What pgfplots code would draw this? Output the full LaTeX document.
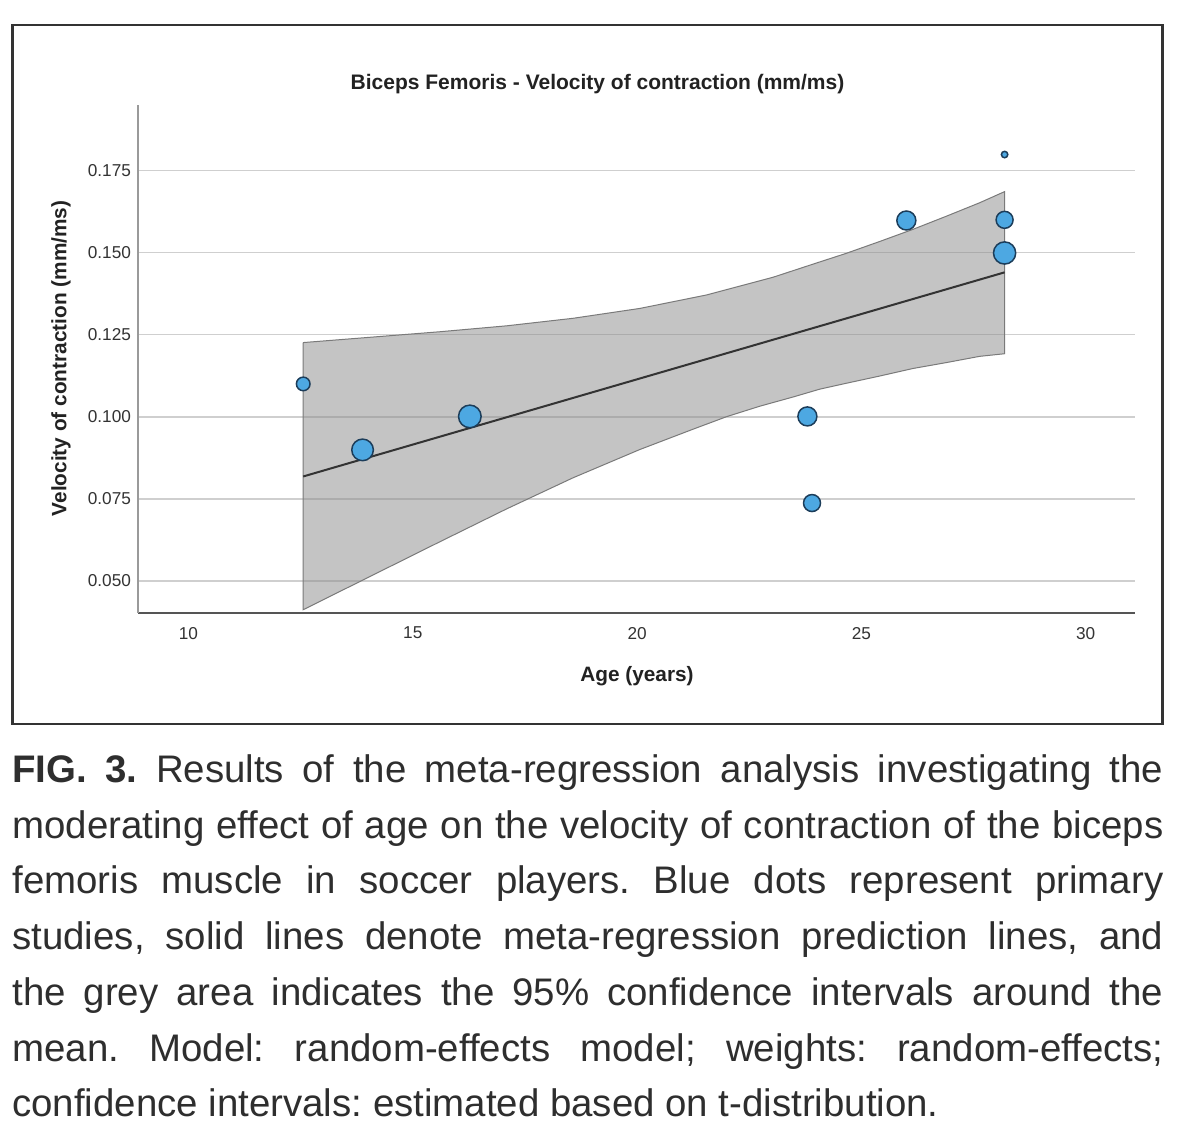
\documentclass[border=0pt]{standalone}
\usepackage{pgfplots}
\pgfplotsset{compat=1.18}
\usepackage{fontspec}
\setmainfont{Liberation Sans}

\definecolor{framecol}{HTML}{333333}
\definecolor{axisdark}{HTML}{555555}
\definecolor{axislight}{HTML}{9A9A9A}
\definecolor{gridcol}{HTML}{CFCFCF}
\definecolor{bandfill}{HTML}{8A8A8A}
\definecolor{bandedge}{HTML}{7A7A7A}
\definecolor{fitline}{HTML}{333333}
\definecolor{dotfill}{HTML}{4DA8E2}
\definecolor{dotedge}{HTML}{1C3D5A}
\definecolor{labelcol}{HTML}{222222}
\definecolor{tickcol}{HTML}{333333}
\definecolor{captext}{HTML}{2E2E2E}

% primary studies: age, velocity, marker radius (pt, by weight)
\pgfplotstableread{
x       y       r
12.558  0.1100  3.4
13.881  0.0899  5.4
16.272  0.1001  5.65
23.797  0.1001  4.75
23.900  0.0737  4.25
26.003  0.1598  4.75
28.193  0.1600  4.25
28.193  0.1499  5.55
28.193  0.1799  1.6
}\studies

% 95% confidence band: upper edge left to right, lower edge right to left
\pgfplotstableread{
x       y
12.558  0.1226
15.604  0.1259
17.090  0.1277
18.574  0.1300
20.060  0.1330
21.546  0.1371
23.030  0.1425
23.922  0.1465
24.665  0.1498
25.408  0.1534
26.150  0.1571
26.894  0.1611
27.636  0.1652
28.193  0.1686
28.193  0.1192
27.636  0.1184
26.894  0.1165
26.150  0.1147
25.408  0.1124
24.665  0.1102
24.071  0.1084
23.500  0.1061
22.734  0.1032
21.992  0.1000
21.248  0.0962
20.060  0.0900
18.574  0.0814
17.090  0.0719
15.604  0.0619
12.558  0.0412
12.558  0.1226
}\band

% meta-regression prediction line
\pgfplotstableread{
x       y
12.558  0.0818
28.193  0.1440
}\fit

\begin{document}
\begin{tikzpicture}
\useasboundingbox (0pt,0pt) rectangle (600pt,566.5pt);
\fill[white] (0pt,0pt) rectangle (600pt,566.5pt);

\begin{axis}[
  at={(69pt,260pt)}, anchor=south west,
  scale only axis, width=498.5pt, height=254pt,
  xmin=8.875, xmax=31.10, ymin=0.0402, ymax=0.195,
  axis x line*=bottom, axis y line*=left,
  x axis line style={draw=axisdark, line width=0.9pt, -},
  y axis line style={draw=axislight, line width=0.9pt, -},
  xtick={10,15,20,25,30},
  ytick={0.050,0.075,0.100,0.125,0.150,0.175},
  major tick length=0pt,
  scaled y ticks=false,
  ymajorgrids, grid style={draw=gridcol, line width=0.8pt},
  /pgf/number format/assume math mode=true,
  ticklabel style={font=\fontsize{8.6}{10}\selectfont, text=tickcol},
  xticklabel style={yshift=-3.5pt},
  yticklabel style={/pgf/number format/.cd, fixed, fixed zerofill, precision=3},
  title={Biceps Femoris - Velocity of contraction (mm/ms)},
  title style={at={(axis description cs:0.4609,1.0073)}, anchor=base,
    font=\bfseries\fontsize{10.5}{12}\selectfont, text=labelcol},
  xlabel={Age (years)},
  xlabel style={at={(axis description cs:0.5005,-0.1339)}, anchor=base,
    font=\bfseries\fontsize{10.4}{12}\selectfont, text=labelcol},
  ylabel={Velocity of contraction (mm/ms)},
  ylabel style={at={(axis description cs:-0.0772,0.501)}, anchor=center, rotate=0,
    font=\bfseries\fontsize{10.4}{12}\selectfont, text=labelcol},
  clip=false,
]
  \addplot[fill=bandfill, fill opacity=0.5, draw=bandedge, line width=0.5pt]
    table[x=x, y=y] {\band};
  \addplot[draw=fitline, line width=1pt] table[x=x, y=y] {\fit};
  \addplot[
    scatter, only marks, mark=*,
    scatter/use mapped color={draw=dotedge, fill=dotfill},
    visualization depends on={\thisrow{r} \as \dotr},
    scatter/@pre marker code/.append style={/tikz/mark size=\dotr},
    mark options={line width=0.75pt},
  ] table[x=x, y=y, meta=r] {\studies};
\end{axis}

\draw[framecol, line width=1.4pt] (6.3pt,554pt) rectangle (581.3pt,204.5pt);

\begin{scope}[every node/.style={anchor=base west, inner sep=0pt, text=captext,
    font=\fontsize{19.2}{23}\selectfont\frenchspacing}]
  \node at (6pt,175.15pt) {\makebox[575.5pt][s]{\textbf{FIG. 3.} Results of the meta-regression analysis investigating the}};
  \node at (6pt,147.35pt) {\makebox[575.5pt][s]{moderating effect of age on the velocity of contraction of the biceps}};
  \node at (6pt,119.5pt) {\makebox[575.5pt][s]{femoris muscle in soccer players. Blue dots represent primary}};
  \node at (6pt,91.65pt) {\makebox[575.5pt][s]{studies, solid lines denote meta-regression prediction lines, and}};
  \node at (6pt,63.8pt) {\makebox[575.5pt][s]{the grey area indicates the 95\% confidence intervals around the}};
  \node at (6pt,35.95pt) {\makebox[575.5pt][s]{mean. Model: random-effects model; weights: random-effects;}};
  \node at (6pt,8.1pt) {confidence intervals: estimated based on t-distribution.};
\end{scope}
\end{tikzpicture}
\end{document}
